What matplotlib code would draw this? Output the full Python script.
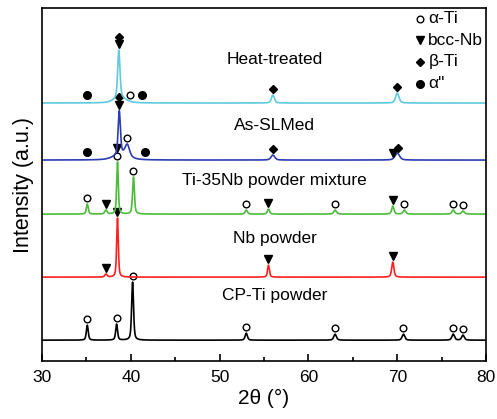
import numpy as np
import matplotlib.pyplot as plt

plt.rcParams["font.family"] = ["Liberation Sans", "DejaVu Sans"]

# peak tables: (2theta, height, fwhm) (height in px-like units)
cpti_peaks = [(35.1, 15, 0.25), (38.4, 16, 0.25), (40.2, 58, 0.25), (53.0, 7, 0.3),
              (63.0, 6, 0.35), (70.7, 6, 0.35), (76.3, 6, 0.35), (77.4, 5, 0.35)]
nb_peaks = [(37.2, 3, 0.3), (38.5, 59, 0.22), (55.5, 12, 0.25), (69.5, 15, 0.3)]
mix_peaks = [(35.1, 10, 0.25), (37.2, 4, 0.3), (38.5, 52, 0.22), (40.3, 37, 0.25),
             (53.0, 4, 0.3), (55.5, 5, 0.3), (63.0, 4, 0.35), (69.5, 8, 0.3),
             (70.8, 4, 0.35), (76.3, 4, 0.35), (77.4, 3, 0.35)]
slm_peaks = [(38.7, 44, 0.3), (39.6, 12, 0.6), (38.9, 5, 2.0), (56.0, 5, 0.5), (70.0, 7, 0.6)]
ht_peaks = [(38.65, 48, 0.3), (38.8, 5, 1.6), (56.0, 8, 0.4), (70.0, 10, 0.45)]

names = ["CP-Ti powder", "Nb powder", "Ti-35Nb powder mixture", "As-SLMed", "Heat-treated"]
baselines = [21, 84, 147, 201, 258]
label_y = [66, 123, 181, 236, 301]
colors = ["black", "#ff1f1f", "#4dbb3b", "#2b3db0", "#5fc9de"]
all_peaks = [cpti_peaks, nb_peaks, mix_peaks, slm_peaks, ht_peaks]

# phase markers per pattern: (2theta, phase), listed bottom to top when stacked
cpti_marks = [(35.1, "a"), (38.4, "a"), (40.2, "a"), (53.0, "a"), (63.0, "a"),
              (70.7, "a"), (76.3, "a"), (77.4, "a")]
nb_marks = [(37.2, "n"), (38.5, "n"), (55.5, "n"), (69.5, "n")]
mix_marks = [(35.1, "a"), (37.2, "n"), (38.5, "a"), (38.5, "n"), (40.3, "a"), (53.0, "a"),
             (55.5, "n"), (63.0, "a"), (69.5, "n"), (70.8, "a"), (76.3, "a"), (77.4, "a")]
slm_marks = [(35.1, "ad"), (38.7, "n"), (38.7, "b"), (39.6, "a"), (41.6, "ad"),
             (56.0, "b"), (69.5, "n"), (70.1, "b")]
ht_marks = [(35.1, "ad"), (38.65, "n"), (38.65, "b"), (39.9, "a"), (41.3, "ad"),
            (56.0, "b"), (70.0, "b")]
all_marks = [cpti_marks, nb_marks, mix_marks, slm_marks, ht_marks]

styles = {
    "a": dict(marker="o", markerfacecolor="none", markeredgecolor="black", markersize=4.8, markeredgewidth=1.0),
    "n": dict(marker="v", color="black", markersize=6),
    "b": dict(marker="D", color="black", markersize=4),
    "ad": dict(marker="o", color="black", markersize=5.5),
}
legend_labels = {"a": "\u03b1-Ti", "n": "bcc-Nb", "b": "\u03b2-Ti", "ad": "\u03b1\""}


def profile(x, peaks):
    y = np.zeros_like(x)
    for pos, h, w in peaks:
        lor = 1 / (1 + ((x - pos) / (w / 2)) ** 2)
        gau = np.exp(-np.log(2) * ((x - pos) / (w / 2)) ** 2)
        y += h * (0.5 * lor + 0.5 * gau)
    return y


x = np.linspace(30, 80, 5001)
fig = plt.figure(figsize=(4.97, 4.19), dpi=100)
ax = fig.add_axes([0.0845, 0.138, 0.8935, 0.843])

for base, peaks, marks, c in zip(baselines, all_peaks, all_marks, colors):
    y = base + profile(x, peaks)
    ax.plot(x, y, color=c, lw=1.2)
    stack = {}
    for pos, ph in marks:
        n = stack.get(pos, 0)
        stack[pos] = n + 1
        top = base + profile(np.array([pos]), peaks)[0]
        if ph == "ad":
            top = base + 2
        ax.plot(pos, top + 6 + 7.5 * n, linestyle="none", **styles[ph])

for name, ly in zip(names, label_y):
    ax.text(56.2, ly, name, ha="center", va="center", fontsize=12.5)

# legend
for i, ph in enumerate(["a", "n", "b", "ad"]):
    ly = 361 - (19 + 21.5 * i)
    ax.plot(72.6, ly, linestyle="none", **styles[ph])
    ax.text(73.5, ly, legend_labels[ph], va="center", fontsize=12.5)

ax.set_xlim(30, 80)
ax.set_ylim(0, 353)
ax.set_xticks(np.arange(30, 81, 10))
ax.set_xticks(np.arange(35, 80, 10), minor=True)
ax.set_yticks([])
ax.tick_params(axis="x", direction="in", length=5, width=1.2, labelsize=12.5, pad=6)
ax.tick_params(axis="x", which="minor", direction="in", length=3, width=1.2)
for s in ax.spines.values():
    s.set_linewidth(1.2)
ax.set_xlabel("2\u03b8 (\u00b0)", fontsize=15, labelpad=3)
ax.set_ylabel("Intensity (a.u.)", fontsize=15.5, labelpad=6)

fig.savefig("out.png", dpi=100)
